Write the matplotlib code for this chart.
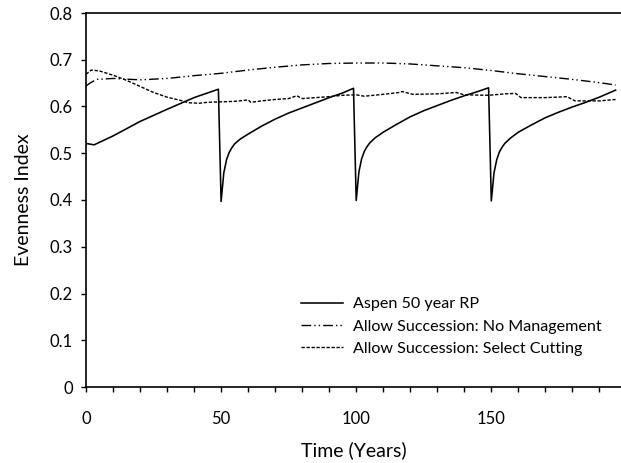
import matplotlib as mpl
mpl.use('Agg')
import matplotlib.pyplot as plt
from matplotlib.ticker import MultipleLocator, FuncFormatter

plt.rcParams['font.family'] = ['Lato', 'DejaVu Sans']

# Aspen 50 year rotation period
anos_aspen = [0, 3, 10, 20, 30, 40, 49,
              50, 51, 52, 53, 54, 55, 57, 60, 65, 70, 75, 80, 85, 90, 95, 99,
              100, 101, 102, 103, 104, 105, 107, 110, 115, 120, 125, 130, 135, 140, 145, 149,
              150, 151, 152, 153, 154, 155, 157, 160, 165, 170, 175, 180, 185, 190, 196]
aspen = [0.521, 0.518, 0.537, 0.568, 0.594, 0.619, 0.637,
         0.397, 0.458, 0.486, 0.502, 0.512, 0.520, 0.530, 0.541, 0.558, 0.573, 0.586, 0.597, 0.608, 0.619, 0.629, 0.639,
         0.399, 0.460, 0.488, 0.504, 0.514, 0.522, 0.533, 0.545, 0.562, 0.578, 0.591, 0.602, 0.613, 0.623, 0.632, 0.640,
         0.398, 0.458, 0.486, 0.503, 0.513, 0.521, 0.532, 0.545, 0.561, 0.576, 0.588, 0.599, 0.609, 0.620, 0.635]

# Allow succession: no management
anos_sem_manejo = [0, 2, 4, 10, 20, 30, 40, 50, 60, 70, 80, 90, 100, 110, 120,
                   130, 140, 150, 160, 170, 180, 190, 196]
sem_manejo = [0.644, 0.652, 0.658, 0.660, 0.657, 0.660, 0.666, 0.671, 0.678, 0.684, 0.689, 0.692,
              0.693, 0.693, 0.691, 0.687, 0.683, 0.677, 0.670, 0.664, 0.658, 0.651, 0.646]

# Allow succession: select cutting
anos_corte = [0, 2, 5, 10, 15, 20, 25, 30, 35, 38, 42, 45, 50, 55, 60, 61, 65, 70, 75, 78, 80,
              85, 90, 95, 100, 103, 110, 116, 117, 121, 130, 137, 140, 149, 155, 159, 161,
              170, 178, 181, 190, 196]
corte = [0.669, 0.678, 0.676, 0.667, 0.656, 0.643, 0.630, 0.620, 0.613, 0.608, 0.607, 0.609,
         0.610, 0.611, 0.614, 0.609, 0.612, 0.615, 0.617, 0.623, 0.617, 0.619, 0.621, 0.624,
         0.625, 0.622, 0.626, 0.630, 0.632, 0.626, 0.627, 0.630, 0.625, 0.624, 0.627, 0.628,
         0.619, 0.619, 0.621, 0.612, 0.612, 0.615]

rotulos = ["Aspen 50 year RP", "Allow Succession: No Management",
           "Allow Succession: Select Cutting"]

fig = plt.figure(figsize=(6.21, 4.63), dpi=100)
ax = fig.add_axes([86 / 621, 76 / 463, 535 / 621, 374 / 463])

ax.plot(anos_aspen, aspen, color='black', lw=1.15, label=rotulos[0])
ax.plot(anos_sem_manejo, sem_manejo, color='black', lw=1.0,
        dashes=(7, 2.2, 1, 2.2, 1, 2.2), label=rotulos[1])
ax.plot(anos_corte, corte, color='black', lw=1.0, dashes=(2.4, 1.2), label=rotulos[2])

ax.set_xlim(0, 198)
ax.set_ylim(0, 0.8)
ax.xaxis.set_major_locator(MultipleLocator(50))
ax.xaxis.set_minor_locator(MultipleLocator(10))
ax.yaxis.set_major_locator(MultipleLocator(0.1))
ax.yaxis.set_major_formatter(FuncFormatter(lambda v, p: '0' if abs(v) < 1e-9 else '%.1f' % v))

ax.tick_params(axis='x', which='both', direction='out', length=3.6, width=1.0, pad=14, labelsize=12)
ax.tick_params(axis='y', which='both', direction='out', length=3.6, width=1.0, pad=6, labelsize=12)

for lado in ['left', 'bottom', 'top']:
    ax.spines[lado].set_linewidth(1.2)
ax.spines['right'].set_visible(False)

ax.set_xlabel("Time (Years)", fontsize=14)
ax.set_ylabel("Evenness Index", fontsize=14)
ax.xaxis.set_label_coords(0.5, -0.145)
ax.yaxis.set_label_coords(-0.1, 0.5)

ax.legend(loc='upper left', bbox_to_anchor=(293 / 621, 1 - 289 / 463),
          bbox_transform=fig.transFigure, frameon=False, fontsize=11.6,
          borderpad=0, handlelength=2.6, handletextpad=0.6, labelspacing=0.5)

plt.savefig("out.png", dpi=100)
